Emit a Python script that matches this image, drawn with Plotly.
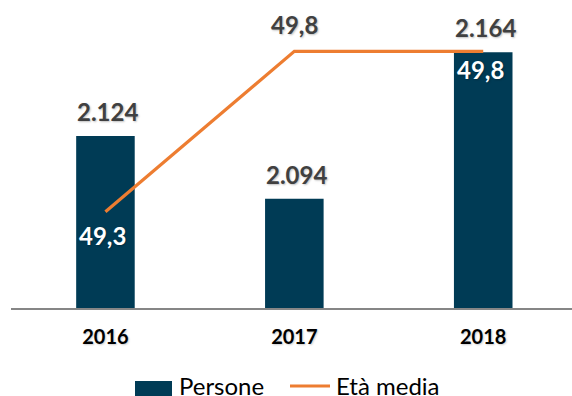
import plotly.graph_objects as go

# Data
years = ["2016", "2017", "2018"]
persone = [2124, 2094, 2164]
eta_media = [49.3, 49.8, 49.8]

BAR_COLOR = "#003b55"
LINE_COLOR = "#ed7d31"
FONT = "Lato"


def fmt_int(v):
    return f"{v:,}".replace(",", ".")


def fmt_dec(v):
    return f"{v:.1f}".replace(".", ",")


fig = go.Figure()

fig.add_trace(go.Bar(
    x=years, y=persone, name="Persone",
    marker=dict(color=BAR_COLOR, line=dict(width=0)),
    width=0.31, showlegend=False, yaxis="y",
))

fig.add_trace(go.Scatter(
    x=years, y=eta_media, name="Età media", mode="lines",
    line=dict(color=LINE_COLOR, width=3.2),
    showlegend=False, yaxis="y2",
))

SHADOW = "1px 1px 2px rgba(0,0,0,0.25)"

# Value labels for the bars (x given as category index)
for i, v in enumerate(persone):
    fig.add_annotation(
        x=i, y=v, xref="x", yref="y", text=fmt_int(v),
        showarrow=False, yanchor="bottom", yshift=8, xshift=2,
        font=dict(family=FONT, size=24, color="#404040", weight="bold",
                  shadow=SHADOW),
    )

# Value labels for the line (above or below the point)
eta_offsets = [-24, 27, -18]
for i, (v, off) in enumerate(zip(eta_media, eta_offsets)):
    color = "#ffffff" if off < 0 else "#404040"
    fig.add_annotation(
        x=i, y=v, xref="x", yref="y2", text=fmt_dec(v),
        showarrow=False, yanchor="middle", yshift=off,
        xshift=-3 if off < 0 else 0,
        font=dict(family=FONT, size=24, color=color, weight="bold",
                  shadow=SHADOW),
    )

# Legend
legend_font = dict(family=FONT, size=24, color="#000000")
fig.add_shape(type="rect", xref="paper", yref="paper",
              x0=(135 - 11) / 561, x1=(172 - 11) / 561,
              y0=(308 - 381) / 308, y1=(308 - 400) / 308,
              fillcolor=BAR_COLOR, line=dict(width=0))
fig.add_annotation(xref="paper", yref="paper",
                   x=(177 - 11) / 561, y=(308 - 385) / 308,
                   xanchor="left", yanchor="middle", text="Persone",
                   showarrow=False, font=legend_font)
fig.add_shape(type="line", xref="paper", yref="paper",
              x0=(290 - 11) / 561, x1=(330 - 11) / 561,
              y0=(308 - 386) / 308, y1=(308 - 386) / 308,
              line=dict(color=LINE_COLOR, width=3))
fig.add_annotation(xref="paper", yref="paper",
                   x=(334 - 11) / 561, y=(308 - 385) / 308,
                   xanchor="left", yanchor="middle", text="Età media",
                   showarrow=False, font=legend_font)

hidden_axis = dict(showgrid=False, zeroline=False, showline=False,
                   showticklabels=False, ticks="")

fig.update_layout(
    width=572, height=396,
    margin=dict(l=11, r=0, t=0, b=88),
    paper_bgcolor="white", plot_bgcolor="white",
    separators=",.",
    xaxis=dict(
        type="category", range=[-0.5, 2.47],
        showline=True, linecolor="#868686", linewidth=2,
        showgrid=False, zeroline=False, ticks="",
        ticklabelstandoff=10,
        tickfont=dict(family=FONT, size=20, color="#000000", weight="bold",
                      shadow="1px 1px 2px rgba(0,0,0,0.2)"),
    ),
    yaxis=dict(range=[2041.7, 2189], **hidden_axis),
    yaxis2=dict(range=[49.0, 49.96], overlaying="y", side="right",
                **hidden_axis),
    showlegend=False,
)

fig.write_html("out.html")
